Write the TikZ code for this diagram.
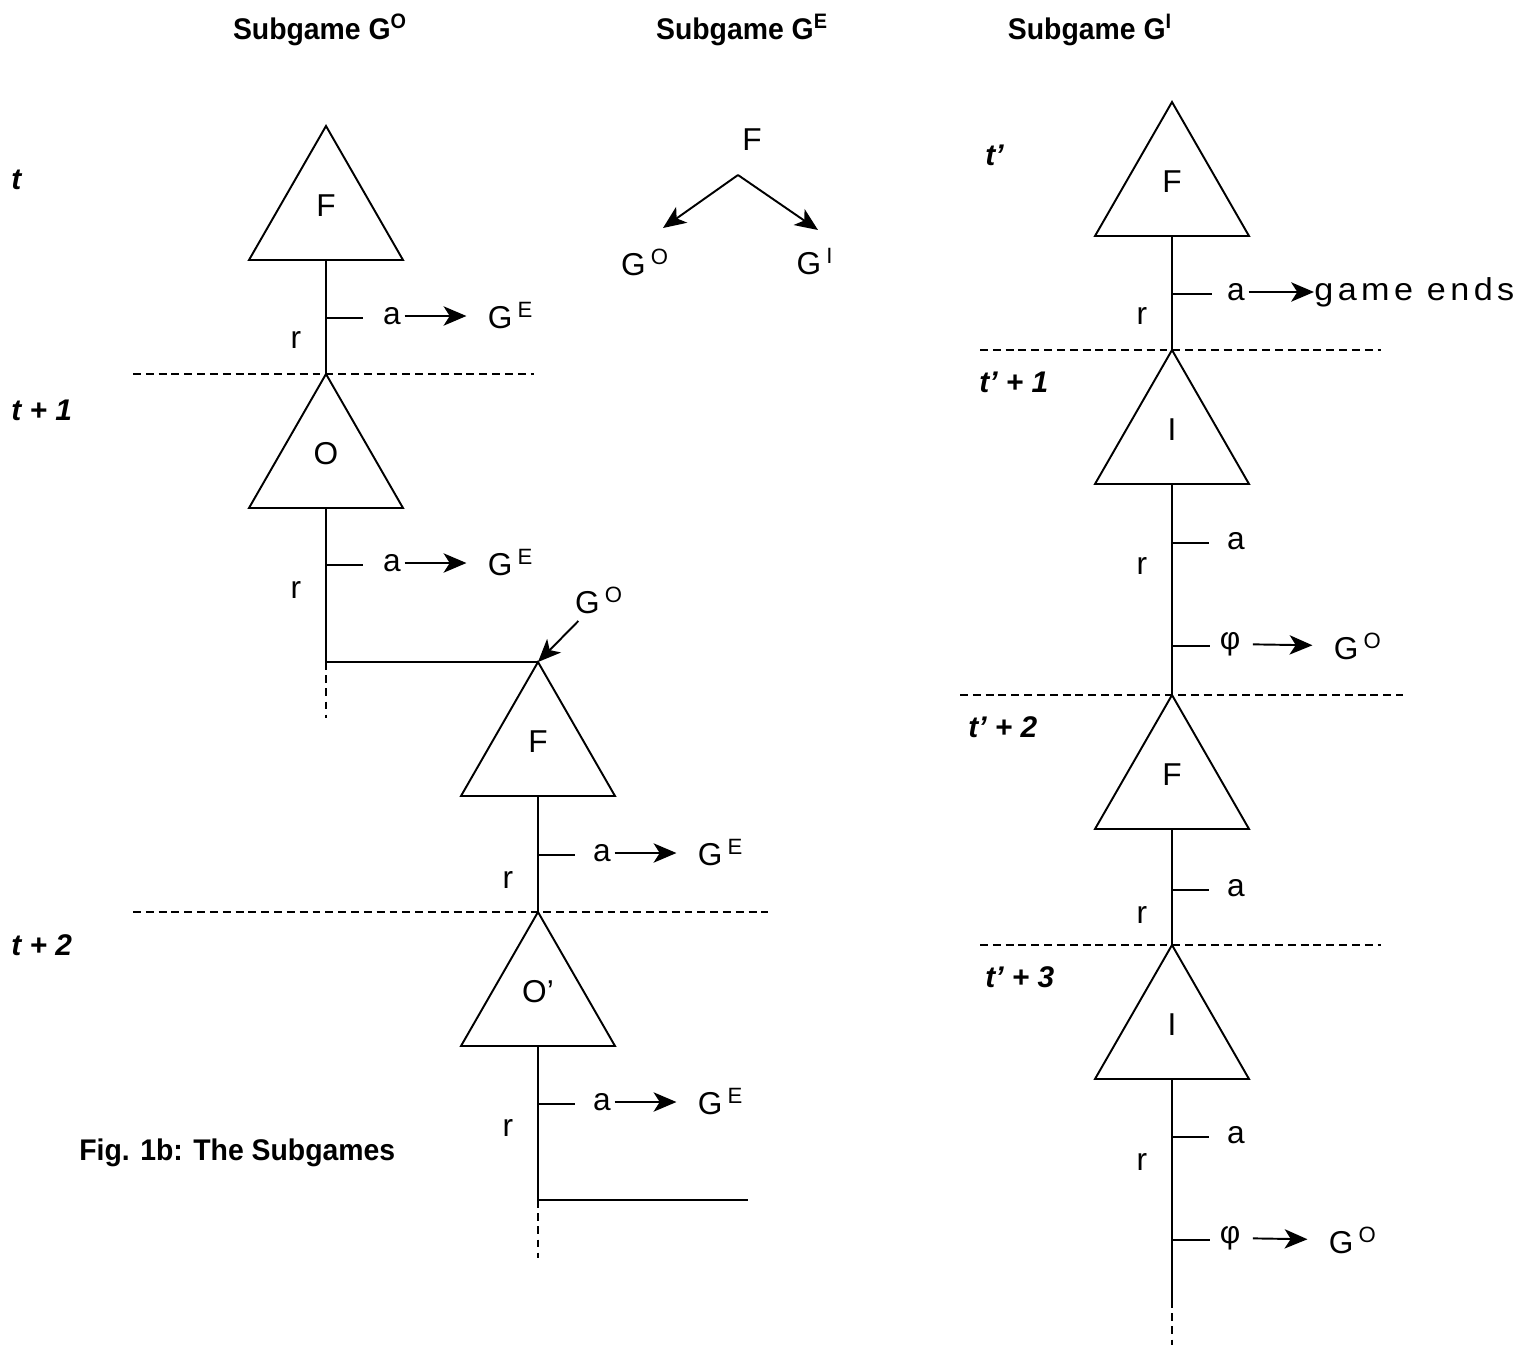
\documentclass[tikz,border=0pt]{standalone}
\usepackage{fontspec}
\setmainfont{Liberation Sans}
\newfontfamily\headfont{Liberation Sans}[FakeStretch=0.95]
\newfontfamily\widefont{Liberation Sans}[LetterSpace=14,FakeStretch=1.08]
\usetikzlibrary{arrows.meta,calc}

\tikzset{
  tri/.style={line width=1.1pt, line join=miter},
  stem/.style={line width=1.1pt},
  cut/.style={line width=0.9pt, dash pattern=on 4.5pt off 2.8pt},
  tail/.style={line width=1.1pt, dash pattern=on 4.5pt off 3pt},
  arr/.style={line width=1.1pt, shorten >=10pt, -{Stealth[length=13pt,width=11pt,inset=3.5pt]}},
  lbl/.style={font=\fontsize{18}{18}\selectfont, inner sep=2pt},
  per/.style={font=\fontsize{17}{17}\selectfont\bfseries\itshape, anchor=west, inner sep=0pt},
  hd/.style={font=\headfont\bfseries\fontsize{17}{17}\selectfont, inner sep=0pt}
}
% triangle for a stage game: name, apex x, apex y, player
\newcommand{\gtri}[4]{%
  \coordinate (#1) at (#2,#3);
  \draw[tri] (#1) -- ++(-77,134) -- ++(154,0) -- cycle;
  \coordinate (#1b) at ($(#1)+(0,134)$);
  \node[lbl] (#1l) at ($(#1)+(0,80)$) {#4};}
\newcommand{\sG}[1]{G\,\textsuperscript{#1}}

\begin{document}
\begin{tikzpicture}[x=0.02cm,y=-0.02cm]
  \useasboundingbox (0,0) rectangle (1516,1346);

  % headings
  \node[hd] (h1) at (320,30) {Subgame G\textsuperscript{O}};
  \node[hd] (h2) at (742,30) {Subgame G\textsuperscript{E}};
  \node[hd] (h3) at (1090,30) {Subgame G\textsuperscript{I}};

  % periods, left
  \node[per] (t0) at (11,180) {t};
  \node[per] (t1) at (11,410) {t + 1};
  \node[per] (t2) at (11,945) {t + 2};

  % subgame G^O
  \gtri{fa}{326}{126}{F}
  \gtri{oa}{326}{374}{O}
  \gtri{fb}{538}{662}{F}
  \gtri{oc}{538}{912}{O’}

  \draw[stem] (fab) -- (oa);
  \draw[stem] (326,318) -- ++(37,0);
  \node[lbl] (aa) at (392,316) {a};
  \node[lbl,anchor=west] (ea) at (484,316) {\sG{E}};
  \draw[arr] (aa) -- (ea);
  \node[lbl] (ra) at (296,340) {r};
  \draw[cut] (oa) ++(-193,0) -- ++(401,0);

  \coordinate (ja) at (326,662);
  \draw[stem] (oab) -- (ja) -- (fb);
  \draw[tail] (ja) -- ++(0,56);
  \draw[stem] (326,565) -- ++(37,0);
  \node[lbl] (ab) at (392,563) {a};
  \node[lbl,anchor=west] (eb) at (484,563) {\sG{E}};
  \draw[arr] (ab) -- (eb);
  \node[lbl] (rb) at (296,590) {r};
  \node[lbl] (go) at (599,600) {\sG{O}};
  \draw[arr,shorten >=0pt,shorten <=3pt] (go) -- (fb);

  \draw[stem] (fbb) -- (oc);
  \draw[stem] (538,855) -- ++(37,0);
  \node[lbl] (ac) at (602,853) {a};
  \node[lbl,anchor=west] (ec) at (694,853) {\sG{E}};
  \draw[arr] (ac) -- (ec);
  \node[lbl] (rc) at (508,880) {r};
  \draw[cut] (oc) ++(-405,0) -- ++(635,0);

  \coordinate (jc) at (538,1200);
  \coordinate (jd) at (748,1200);
  \draw[stem] (ocb) -- (jc) -- (jd);
  \draw[tail] (jc) -- ++(0,58);
  \draw[stem] (538,1104) -- ++(37,0);
  \node[lbl] (ad) at (602,1102) {a};
  \node[lbl,anchor=west] (ed) at (694,1102) {\sG{E}};
  \draw[arr] (ad) -- (ed);
  \node[lbl] (rd) at (508,1128) {r};

  \node[hd,anchor=west] (cap) at (79,1153) {Fig. 1b: The Subgames};

  % subgame G^E
  \node[lbl] (mf) at (752,140) {F};
  \coordinate (mv) at (738,175);
  \node[lbl] (mo) at (645,262) {\sG{O}};
  \node[lbl] (mi) at (815,262) {\sG{I}};
  \coordinate (mot) at (663,228);
  \coordinate (mit) at (818,230);
  \draw[arr,shorten >=0pt] (mv) -- (mot);
  \draw[arr,shorten >=0pt] (mv) -- (mit);

  % subgame G^I
  \node[per] (s0) at (985,155) {t’};
  \node[per] (s1) at (979,382) {t’ + 1};
  \node[per] (s2) at (968,727) {t’ + 2};
  \node[per] (s3) at (985,977) {t’ + 3};

  \gtri{fr}{1172}{102}{F}
  \gtri{ir}{1172}{350}{I}
  \gtri{fs}{1172}{695}{F}
  \gtri{is}{1172}{945}{I}

  \draw[stem] (frb) -- (ir);
  \draw[stem] (1172,294) -- ++(40,0);
  \node[lbl] (ar) at (1236,292) {a};
  \node[lbl,anchor=west,inner sep=0pt,font=\widefont\fontsize{18}{18}\selectfont] (ge) at (1314,292) {game ends};
  \draw[arr,shorten >=0pt] (ar) -- (ge);
  \node[lbl] (rr) at (1142,316) {r};
  \draw[cut] (ir) ++(-192,0) -- ++(401,0);

  \draw[stem] (irb) -- (fs);
  \draw[stem] (1172,543) -- ++(37,0);
  \node[lbl] (as) at (1236,541) {a};
  \node[lbl] (rs) at (1142,566) {r};
  \draw[stem] (1172,646) -- ++(38,0);
  \node[lbl] (ps) at (1230,644) {φ};
  \node[lbl,anchor=west] (gs) at (1330,646) {\sG{O}};
  \draw[arr,shorten <=5pt] (ps) -- (gs);
  \draw[cut] (fs) ++(-212,0) -- ++(443,0);

  \draw[stem] (fsb) -- (is);
  \draw[stem] (1172,890) -- ++(37,0);
  \node[lbl] (at) at (1236,888) {a};
  \node[lbl] (rt) at (1142,915) {r};
  \draw[cut] (is) ++(-192,0) -- ++(401,0);

  \coordinate (ke) at (1172,1300);
  \draw[stem] (isb) -- (ke);
  \draw[tail] (ke) -- ++(0,45);
  \draw[stem] (1172,1137) -- ++(37,0);
  \node[lbl] (au) at (1236,1135) {a};
  \node[lbl] (ru) at (1142,1162) {r};
  \draw[stem] (1172,1240) -- ++(38,0);
  \node[lbl] (pu) at (1230,1238) {φ};
  \node[lbl,anchor=west] (gu) at (1325,1240) {\sG{O}};
  \draw[arr,shorten <=5pt] (pu) -- (gu);
\end{tikzpicture}
\end{document}
